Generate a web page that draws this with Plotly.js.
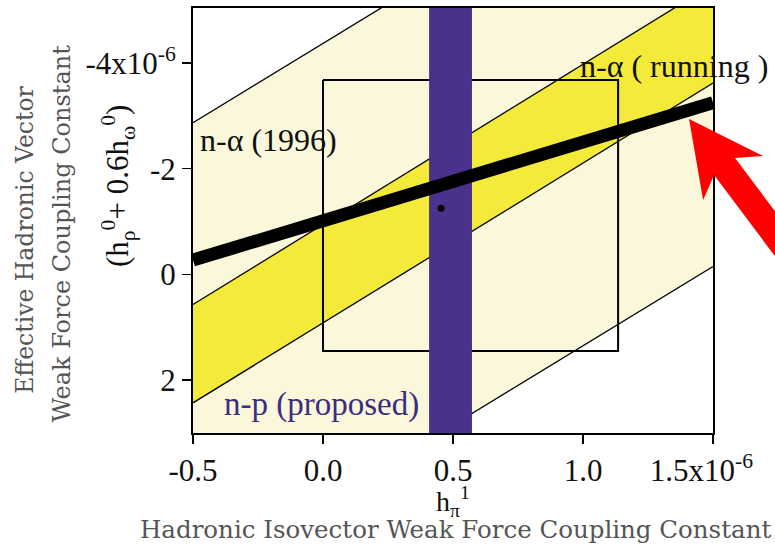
<!DOCTYPE html>
<html>
<head>
<meta charset="utf-8">
<script src="https://cdn.plot.ly/plotly-3.0.1.min.js"></script>
<style>html,body{margin:0;padding:0;background:#fff;}#chart{width:775px;height:544px;}</style>
</head>
<body>
<div id="chart"></div>
<script>
// ---- data (units of 1e-6) ----
const xRange = [-0.5, 1.5];
const yRange = [3.0, -5.04];
const lineX = [-0.5, 1.5];
const na1996Upper = [-2.87, -8.87];
const na1996Lower = [5.85, -0.15];
const naRunUpper = [0.57, -5.49];
const naRunLower = [2.43, -3.62];
const npBandX = [0.408, 0.573];
const boxX = [0.0, 1.135];
const boxY = [-3.68, 1.45];
const fitY = [-0.27, -3.25];
const pointX = [0.454];
const pointY = [-1.25];
const arrowTip = [1.408, -2.94];
const xTickVals = [-0.5, 0.0, 0.5, 1.0, 1.5];
const xTickText = ['-0.5', '0.0', '0.5', '1.0', '1.5x10<sup>-6</sup>\u00a0\u00a0\u00a0'];
const yTickVals = [-4, -2, 0, 2];
const yTickText = ['-4x10<sup>-6</sup>', '-2', '0', '2'];

const SERIF = 'Liberation Serif, Times New Roman, serif';
const TITLE_SERIF = 'DejaVu Serif, serif';

const M = {l: 193, r: 62, t: 8, b: 111};
const W = 775, H = 544;
const plotW = W - M.l - M.r, plotH = H - M.t - M.b;

// arrow outline (pixel offsets from the tip), placed in paper coords
const arrowOffsets = [[0, 0], [74, 37], [46, 39], [136, 159], [115, 176], [25, 56], [14, 81]];
const tipPX = (arrowTip[0] - xRange[0]) / (xRange[1] - xRange[0]);
const tipPY = (arrowTip[1] - yRange[0]) / (yRange[1] - yRange[0]);
const arrowPath = arrowOffsets.map((o, i) =>
  (i ? 'L' : 'M') + (tipPX + o[0] / plotW).toFixed(5) + ',' + (tipPY - o[1] / plotH).toFixed(5)).join(' ') + ' Z';

const traces = [
  {x: lineX, y: na1996Lower, mode: 'lines', line: {color: '#000', width: 1.3}, hoverinfo: 'skip'},
  {x: lineX, y: na1996Upper, mode: 'lines', line: {color: '#000', width: 1.3}, fill: 'tonexty', fillcolor: '#FAF7DA', hoverinfo: 'skip'},
  {x: lineX, y: naRunLower, mode: 'lines', line: {color: '#000', width: 1.3}, hoverinfo: 'skip'},
  {x: lineX, y: naRunUpper, mode: 'lines', line: {color: '#000', width: 1.3}, fill: 'tonexty', fillcolor: '#F4EA3A', hoverinfo: 'skip'},
  {x: [boxX[0], boxX[1], boxX[1], boxX[0], boxX[0]], y: [boxY[0], boxY[0], boxY[1], boxY[1], boxY[0]],
   mode: 'lines', line: {color: '#000', width: 2}, hoverinfo: 'skip'},
  {x: [npBandX[0], npBandX[1], npBandX[1], npBandX[0], npBandX[0]], y: [yRange[0], yRange[0], yRange[1], yRange[1], yRange[0]],
   mode: 'lines', line: {width: 0, color: '#4A318C'}, fill: 'toself', fillcolor: '#4A318C', hoverinfo: 'skip'},
  {x: lineX, y: fitY, mode: 'lines', line: {color: '#000', width: 13}, hoverinfo: 'skip'},
  {x: pointX, y: pointY, mode: 'markers', marker: {color: '#000', size: 7}, hoverinfo: 'skip'}
];

const layout = {
  width: W, height: H,
  margin: M,
  paper_bgcolor: '#fff', plot_bgcolor: '#fff',
  showlegend: false,
  xaxis: {range: xRange, showgrid: false, zeroline: false, showline: true, mirror: true,
          linecolor: '#000', linewidth: 2, ticks: 'outside', ticklen: 9, tickwidth: 1.5, tickcolor: '#000',
          ticklabeloverflow: 'allow',
          tickvals: xTickVals, ticktext: xTickText, tickfont: {family: SERIF, size: 31, color: '#111'}},
  yaxis: {range: yRange, showgrid: false, zeroline: false, showline: true, mirror: true,
          linecolor: '#000', linewidth: 2, ticks: 'outside', ticklen: 9, tickwidth: 1.5, tickcolor: '#000',
          tickvals: yTickVals, ticktext: yTickText, tickfont: {family: SERIF, size: 31, color: '#111'}},
  shapes: [
    {type: 'path', xref: 'paper', yref: 'paper', path: arrowPath, fillcolor: '#FF0000', line: {width: 0}, layer: 'above'}
  ],
  annotations: [
    {x: -0.48, y: -2.55, xref: 'x', yref: 'y', text: 'n-α (1996)', showarrow: false, xanchor: 'left', yanchor: 'middle',
     font: {family: SERIF, size: 32, color: '#111'}},
    {x: 0.98, y: -3.94, xref: 'x', yref: 'y', text: 'n-α ( running )', showarrow: false, xanchor: 'left', yanchor: 'middle',
     font: {family: SERIF, size: 32, color: '#111'}},
    {x: -0.388, y: 2.47, xref: 'x', yref: 'y', text: 'n-p (proposed)', showarrow: false, xanchor: 'left', yanchor: 'middle',
     font: {family: SERIF, size: 33, color: '#3B2D82'}},
    {x: -0.323, y: 0.455, xref: 'paper', yref: 'paper', text: 'Effective Hadronic Vector', textangle: -90,
     xanchor: 'center', yanchor: 'middle', showarrow: false, font: {family: TITLE_SERIF, size: 23.5, color: '#555'}},
    {x: -0.252, y: 0.47, xref: 'paper', yref: 'paper', text: 'Weak Force Coupling Constant', textangle: -90,
     xanchor: 'center', yanchor: 'middle', showarrow: false, font: {family: TITLE_SERIF, size: 24, color: '#555'}},
    {x: -0.145, y: 0.58, xref: 'paper', yref: 'paper', text: '(h<sub>ρ</sub><sup>0</sup>+ 0.6h<sub>ω</sub><sup>0</sup>)', textangle: -90,
     xanchor: 'center', yanchor: 'middle', showarrow: false, font: {family: SERIF, size: 31, color: '#111'}},
    {x: 0.5, y: -0.161, xref: 'paper', yref: 'paper', text: 'h<sub>π</sub><sup>1</sup>',
     xanchor: 'center', yanchor: 'middle', showarrow: false, font: {family: SERIF, size: 28, color: '#111'}},
    {x: 0.505, y: -0.226, xref: 'paper', yref: 'paper', text: 'Hadronic Isovector Weak Force Coupling Constant',
     xanchor: 'center', yanchor: 'middle', showarrow: false, font: {family: TITLE_SERIF, size: 24.5, color: '#555'}}
  ]
};

Plotly.newPlot('chart', traces, layout, {staticPlot: true, displayModeBar: false});
</script>
</body>
</html>
